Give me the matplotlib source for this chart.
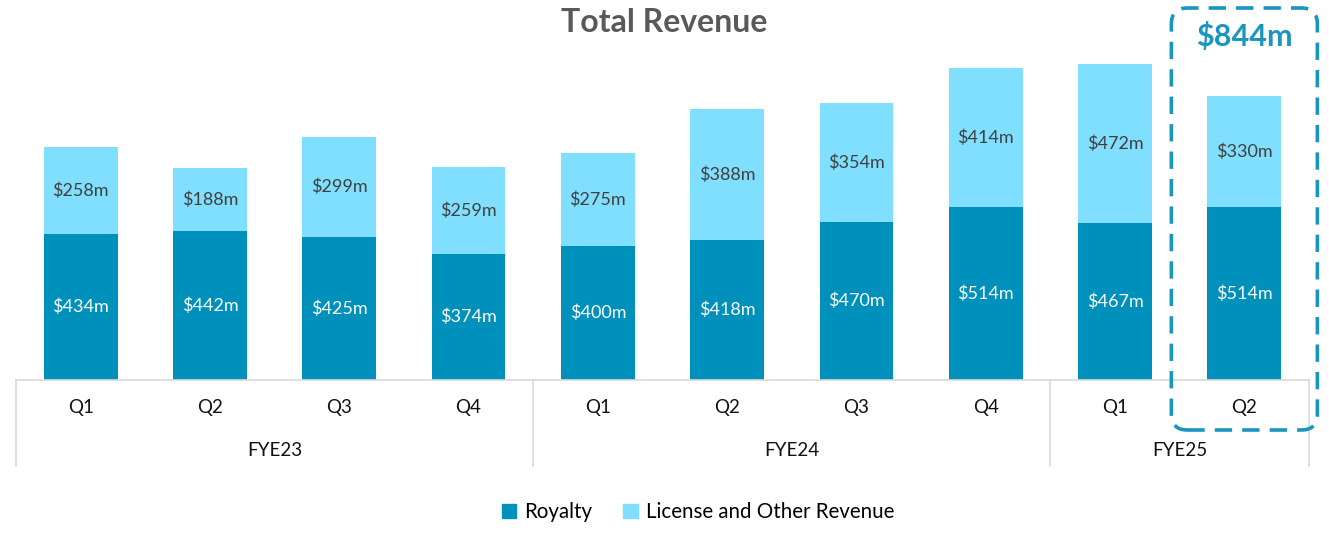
import matplotlib.pyplot as plt
from matplotlib.patches import FancyBboxPatch, Patch

plt.rcParams['font.family'] = ['Lato', 'DejaVu Sans']

quarters = ['Q1', 'Q2', 'Q3', 'Q4', 'Q1', 'Q2', 'Q3', 'Q4', 'Q1', 'Q2']
years = ['FYE23', 'FYE24', 'FYE25']
year_sizes = [4, 4, 2]
royalty = [434, 442, 425, 374, 400, 418, 470, 514, 467, 514]
license_other = [258, 188, 299, 259, 275, 388, 354, 414, 472, 330]
highlight_total = 844

royalty_color = '#0090bc'
license_color = '#80dfff'
box_color = '#1a95c0'
line_color = '#d9d9d9'

W, H = 1329, 536
fig = plt.figure(figsize=(W / 100, H / 100), dpi=100)
ax = fig.add_axes([16 / W, (H - 380) / H, (1309 - 16) / W, 336 / H])

x = list(range(len(quarters)))
ax.bar(x, royalty, width=0.57, color=royalty_color)
ax.bar(x, license_other, width=0.57, bottom=royalty, color=license_color)

for i in x:
    ax.text(i, royalty[i] / 2, f'${royalty[i]}m', ha='center', va='center',
            color='white', fontsize=13)
    ax.text(i, royalty[i] + license_other[i] / 2, f'${license_other[i]}m',
            ha='center', va='center', color='#404040', fontsize=13)

ax.set_xlim(-0.5, len(quarters) - 0.5)
ax.set_ylim(0, 1000)
ax.axis('off')

# category axis: baseline, separators, quarter and year labels
trans = ax.get_xaxis_transform()
ax.plot([-0.5, len(quarters) - 0.5], [0, 0], color=line_color, lw=1.2,
        transform=trans, clip_on=False)
start = -0.5
bounds = [start]
for n in year_sizes:
    start += n
    bounds.append(start)
for b in bounds:
    ax.plot([b, b], [0, -86 / 336], color=line_color, lw=1.2,
            transform=trans, clip_on=False)
for i, q in enumerate(quarters):
    ax.text(i, -28 / 336, q, ha='center', va='center', fontsize=13.5,
            color='#111111', transform=trans)
for k, yr in enumerate(years):
    mid = (bounds[k] + bounds[k + 1]) / 2
    ax.text(mid, -71 / 336, yr, ha='center', va='center', fontsize=13.5,
            color='#111111', transform=trans)

fig.text(0.5, 1 - 22 / H, 'Total Revenue', ha='center', va='center',
         fontsize=23, fontweight='bold', color='#595959')

# highlight box around the latest quarter
fig.canvas.draw()
cx = ax.transData.transform((x[-1], 0))[0]
box = FancyBboxPatch((cx - 73, H - 430), 146, 422,
                     boxstyle='round,pad=0,rounding_size=16',
                     fill=False, edgecolor=box_color, lw=2.6,
                     linestyle=(0, (4.8, 2.8)), transform=None, clip_on=False)
fig.patches.append(box)
fig.text(cx / W, 1 - 37 / H, f'${highlight_total}m', ha='center', va='center',
         fontsize=22, fontweight='bold', color=box_color)

handles = [Patch(color=royalty_color, label='Royalty'),
           Patch(color=license_color, label='License and Other Revenue')]
fig.legend(handles=handles, loc='center', bbox_to_anchor=(698 / W, 1 - 512 / H),
           ncol=2, frameon=False, fontsize=14.8, handlelength=0.7,
           handleheight=0.7, handletextpad=0.4, columnspacing=1.5)

fig.savefig('out.png', dpi=100)
